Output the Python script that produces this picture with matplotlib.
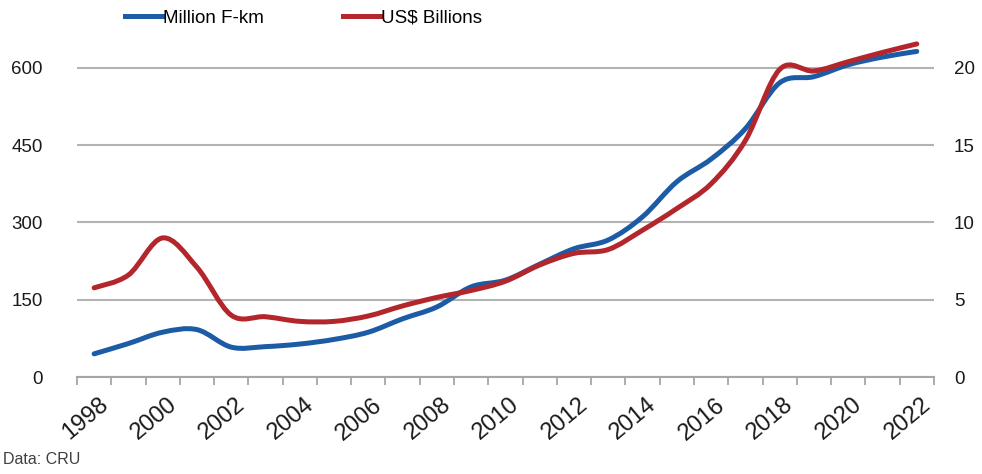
import numpy as np
import matplotlib
matplotlib.use("Agg")
import matplotlib.pyplot as plt
from matplotlib.path import Path
from matplotlib.patches import PathPatch
from matplotlib.lines import Line2D
from matplotlib.transforms import ScaledTranslation

plt.rcParams['font.family'] = ['Liberation Sans', 'DejaVu Sans']

years = list(range(1998, 2023))
fkm = [45, 65, 87, 92, 58, 59, 64, 73, 87, 113, 136, 175, 188, 219, 249,
       266, 311, 379, 423, 482, 571, 583, 606, 621, 632]
usd = [5.77, 6.6, 9.0, 7.1, 4.0, 3.9, 3.6, 3.6, 3.95, 4.6, 5.15, 5.6, 6.2,
       7.25, 8.0, 8.25, 9.5, 10.9, 12.5, 15.3, 19.9, 19.8, 20.4, 21.0, 21.55]
left_ticks = [0, 150, 300, 450, 600]
right_ticks = [0, 5, 10, 15, 20]
label_years = list(range(1998, 2023, 2))

BLUE = '#1c5ba5'
RED = '#b3262c'


def smooth_path(x, y):
    # excel-style smoothed line: catmull-rom segments as cubic beziers
    p = np.column_stack([x, y]).astype(float)
    n = len(p)
    verts = [p[0]]
    codes = [Path.MOVETO]
    for i in range(n - 1):
        p0 = p[i - 1] if i > 0 else p[i]
        p1, p2 = p[i], p[i + 1]
        p3 = p[i + 2] if i + 2 < n else p[i + 1]
        verts += [p1 + (p2 - p0) / 6, p2 - (p3 - p1) / 6, p2]
        codes += [Path.CURVE4] * 3
    return Path(verts, codes)


fig = plt.figure(figsize=(9.82, 4.74), dpi=100)
ax = fig.add_axes([0.0784, 0.2046, 0.8726, 0.7174])
ax2 = ax.twinx()

ax.set_xlim(1997.5, 2022.5)
ax.set_ylim(0, 660)
ax2.set_ylim(0, 22)

ax.add_patch(PathPatch(smooth_path(years, fkm), fill=False, edgecolor=BLUE,
                       lw=3.6, capstyle='round', joinstyle='round', zorder=3))
ax2.add_patch(PathPatch(smooth_path(years, usd), fill=False, edgecolor=RED,
                        lw=3.6, capstyle='round', joinstyle='round', zorder=3))

for a in (ax, ax2):
    for s in ('top', 'left', 'right'):
        a.spines[s].set_visible(False)
ax.spines['bottom'].set_color('#a6a6a6')
ax.spines['bottom'].set_linewidth(1.5)
ax2.spines['bottom'].set_visible(False)

ax.set_yticks(left_ticks)
ax.set_yticklabels([str(t) for t in left_ticks])
ax.tick_params(axis='y', length=0, pad=24.5, labelsize=13.5, labelcolor='#1a1a1a')
ax.yaxis.grid(True, color='#b3b3b3', lw=1.5)
ax.set_axisbelow(True)

ax2.set_yticks(right_ticks)
ax2.set_yticklabels([str(t) for t in right_ticks])
ax2.tick_params(axis='y', length=0, pad=14.5, labelsize=13.5, labelcolor='#1a1a1a')

# tick marks on category boundaries, labels on every other category
ax.set_xticks(np.arange(1997.5, 2023, 1.0))
ax.set_xticklabels([])
ax.tick_params(axis='x', which='major', length=6, width=1.3, color='#a6a6a6')
ax.set_xticks(label_years, minor=True)
ax.set_xticklabels([str(y) for y in label_years], minor=True, rotation=40,
                   ha='right', va='top', rotation_mode='anchor')
ax.tick_params(axis='x', which='minor', length=0, pad=12, labelsize=17,
               labelcolor='#1a1a1a')
shift = ScaledTranslation(4 / 100, 0, fig.dpi_scale_trans)
for lab in ax.get_xticklabels(minor=True):
    lab.set_transform(lab.get_transform() + shift)

handles = [Line2D([], [], color=BLUE, lw=3.6),
           Line2D([], [], color=RED, lw=3.6)]
fig.legend(handles, ['Million F-km', 'US$ Billions'], loc='center',
           bbox_to_anchor=(0.309, 0.962), ncol=2, frameon=False,
           fontsize=13.5, handlelength=2.0, handletextpad=0.05,
           columnspacing=4.2)

fig.text(0.003, 0.022, 'Data: CRU', fontsize=11.5, color='#404040')

fig.savefig('out.png', dpi=100)
